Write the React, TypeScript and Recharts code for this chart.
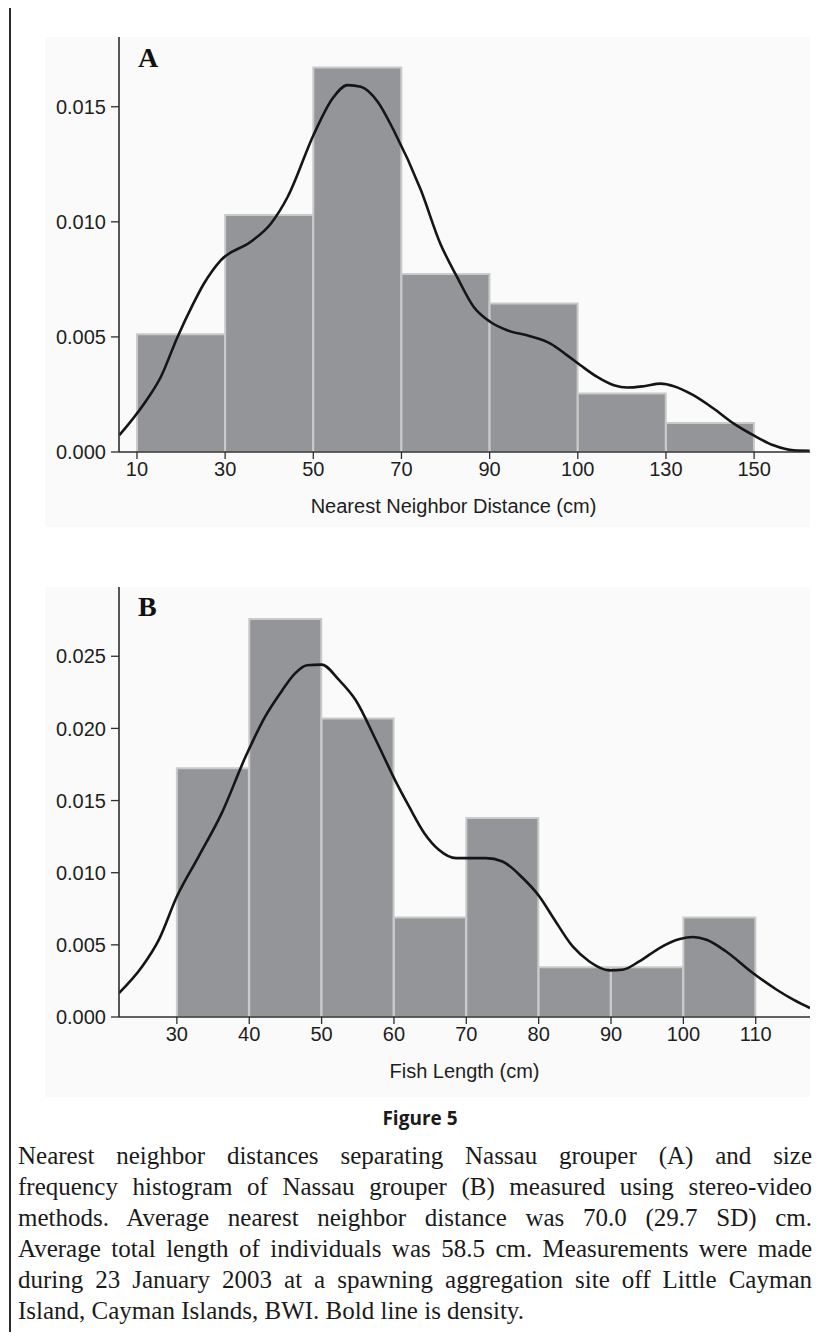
import React from 'react';
import { ComposedChart, Bar, Line, XAxis, YAxis, Label } from 'recharts';

// ---------- Panel A: nearest neighbor distance ----------
// x axis of panel A is drawn with equally spaced bin edges (index units)
const edgeLabelsA = ['10', '30', '50', '70', '90', '100', '130', '150'];
const edgePosA = [0, 1, 2, 3, 4, 5, 6, 7];
const binCenterA = [0.5, 1.5, 2.5, 3.5, 4.5, 5.5, 6.5];
const histA = [0.00512, 0.0103, 0.0167, 0.00773, 0.00645, 0.00254, 0.00126];
const densXA = [-0.2, 0.08, 0.27, 0.46, 0.63, 0.76, 0.95, 1.29, 1.52, 1.71, 2.01, 2.22, 2.39, 2.54, 2.73, 2.91, 3.22, 3.44, 3.63, 3.82, 4.01, 4.2, 4.46, 4.69, 4.88, 5.03, 5.22, 5.41, 5.56, 5.75, 5.94, 6.09, 6.31, 6.54, 6.77, 6.99, 7.22, 7.45, 7.63];
const densYA = [0.00073, 0.0021, 0.00326, 0.005, 0.00638, 0.00732, 0.00833, 0.00913, 0.00993, 0.01109, 0.01384, 0.01537, 0.01594, 0.01587, 0.01522, 0.01399, 0.01138, 0.00906, 0.00761, 0.0063, 0.00565, 0.00529, 0.00503, 0.00471, 0.0042, 0.00377, 0.00326, 0.0029, 0.0028, 0.00286, 0.00297, 0.00286, 0.00247, 0.00189, 0.00123, 0.00073, 0.00029, 0.00007, 0.00005];
const yTicksA = [0, 0.005, 0.01, 0.015];
const xDomainA: [number, number] = [-0.204, 7.634];
const yDomainA: [number, number] = [0, 0.01803];

// ---------- Panel B: fish length ----------
const xTicksB = [30, 40, 50, 60, 70, 80, 90, 100, 110];
const binCenterB = [35, 45, 55, 65, 75, 85, 95, 105];
const histB = [0.01724, 0.02759, 0.02069, 0.0069, 0.01379, 0.00345, 0.00345, 0.0069];
const densXB = [22.0, 25.2, 27.5, 30.0, 33.0, 36.2, 39.5, 42.2, 44.5, 46.3, 48.0, 50.0, 52.4, 54.7, 57.5, 60.2, 62.1, 64.2, 66.2, 68.6, 72.7, 75.0, 77.8, 80.1, 81.9, 84.7, 87.0, 89.8, 91.6, 93.9, 96.7, 99.5, 101.3, 103.2, 105.9, 109.6, 112.9, 115.2, 117.5];
const densYB = [0.00166, 0.0035, 0.00535, 0.00835, 0.01112, 0.01413, 0.01805, 0.02082, 0.0226, 0.0238, 0.02438, 0.02442, 0.02336, 0.02197, 0.0192, 0.01637, 0.01458, 0.01274, 0.01159, 0.01101, 0.01101, 0.01078, 0.00963, 0.00835, 0.00697, 0.00489, 0.00385, 0.00323, 0.00328, 0.00385, 0.00478, 0.0054, 0.00554, 0.00535, 0.00454, 0.00305, 0.00189, 0.0012, 0.00062];
const yTicksB = [0, 0.005, 0.01, 0.015, 0.02, 0.025];
const xDomainB: [number, number] = [22, 117.5];
const yDomainB: [number, number] = [0, 0.0298];

const captionLines = [
  'Nearest neighbor distances separating Nassau grouper (A) and size',
  'frequency histogram of Nassau grouper (B) measured using stereo-video',
  'methods. Average nearest neighbor distance was 70.0 (29.7 SD) cm.',
  'Average total length of individuals was 58.5 cm. Measurements were made',
  'during 23 January 2003 at a spawning aggregation site off Little Cayman',
  'Island, Cayman Islands, BWI. Bold line is density.',
];

const buildData = (bx: number[], hist: number[], lx: number[], dens: number[]) => [
  ...bx.map((v, i) => ({ bx: v, hist: hist[i] })),
  ...lx.map((v, i) => ({ lx: v, dens: dens[i] })),
];

const dataA = buildData(binCenterA, histA, densXA, densYA);
const dataB = buildData(binCenterB, histB, densXB, densYB);

const AXIS = '#2e2e2e';
const SANS = '"Liberation Sans", Arial, Helvetica, sans-serif';
const tickStyle = { fontSize: 20, fill: '#1e1e1e', fontFamily: SANS };
const BAR_FILL = '#939598';
const BAR_STROKE = '#cacaca';

type PanelProps = {
  data: any[];
  top: number;
  height: number;
  xDomain: [number, number];
  xTicks: number[];
  xFormat: (v: number) => string;
  yDomain: [number, number];
  yTicks: number[];
  xTitle: string;
  titleDx: number;
};

function Panel(p: PanelProps) {
  return (
    <div style={{ position: 'absolute', left: 0, top: p.top }}>
      <ComposedChart
        width={830}
        height={p.height}
        data={p.data}
        margin={{ top: 37, right: 20, bottom: 0, left: 0 }}
        barCategoryGap={0}
        barGap={0}
      >
        <XAxis
          xAxisId="main"
          dataKey="lx"
          type="number"
          domain={p.xDomain}
          allowDataOverflow
          ticks={p.xTicks}
          interval={0}
          tickFormatter={p.xFormat}
          height={78}
          tickSize={7}
          tickMargin={3}
          tick={tickStyle}
          tickLine={{ stroke: AXIS, strokeWidth: 1.3 }}
          axisLine={{ stroke: AXIS, strokeWidth: 1.6 }}
        >
          <Label
            value={p.xTitle}
            position="insideBottom"
            offset={17}
            dx={p.titleDx}
            style={{ fontSize: 20, fill: '#1e1e1e', fontFamily: SANS }}
          />
        </XAxis>
        <XAxis
          xAxisId="bars"
          dataKey="bx"
          type="number"
          orientation="top"
          height={0}
          domain={p.xDomain}
          allowDataOverflow
          hide
        />
        <YAxis
          type="number"
          domain={p.yDomain}
          allowDataOverflow
          ticks={p.yTicks}
          interval={0}
          tickFormatter={(v: number) => v.toFixed(3)}
          width={119}
          tickSize={8}
          tickMargin={5}
          tick={tickStyle}
          tickLine={{ stroke: AXIS, strokeWidth: 1.3 }}
          axisLine={{ stroke: AXIS, strokeWidth: 1.6 }}
        />
        <Bar
          xAxisId="bars"
          dataKey="hist"
          fill={BAR_FILL}
          stroke={BAR_STROKE}
          strokeWidth={2}
          isAnimationActive={false}
        />
        <Line
          xAxisId="main"
          dataKey="dens"
          type="monotone"
          stroke="#151515"
          strokeWidth={2.6}
          dot={false}
          activeDot={false}
          connectNulls
          isAnimationActive={false}
        />
      </ComposedChart>
    </div>
  );
}

function PanelLetter({ letter, top }: { letter: string; top: number }) {
  return (
    <svg width={60} height={40} style={{ position: 'absolute', left: 130, top }}>
      <text
        x={8}
        y={30}
        style={{ fontSize: 28, fontWeight: 700, fontFamily: '"Liberation Serif", "DejaVu Serif", serif', fill: '#111' }}
      >
        {letter}
      </text>
    </svg>
  );
}

export default function App() {
  return (
    <div
      style={{
        position: 'relative',
        margin: -8,
        width: 830,
        height: 1340,
        overflow: 'hidden',
        background: '#ffffff',
      }}
    >
      {/* frame */}
      <div
        style={{
          position: 'absolute',
          left: 9,
          top: 5,
          width: 900,
          height: 1400,
          borderLeft: '2px solid #2b2b2b',
          borderTop: '2px solid #2b2b2b',
        }}
      />
      {/* faint panel backgrounds */}
      <div style={{ position: 'absolute', left: 45, top: 37, width: 765, height: 490, background: '#fafafa' }} />
      <div style={{ position: 'absolute', left: 45, top: 587, width: 765, height: 510, background: '#fafafa' }} />

      <Panel
        data={dataA}
        top={0}
        height={530}
        xDomain={xDomainA}
        xTicks={edgePosA}
        xFormat={(v: number) => edgeLabelsA[v]}
        yDomain={yDomainA}
        yTicks={yTicksA}
        xTitle="Nearest Neighbor Distance (cm)"
        titleDx={-11}
      />
      <PanelLetter letter="A" top={37} />

      <Panel
        data={dataB}
        top={550}
        height={545}
        xDomain={xDomainB}
        xTicks={xTicksB}
        xFormat={(v: number) => String(v)}
        yDomain={yDomainB}
        yTicks={yTicksB}
        xTitle="Fish Length (cm)"
        titleDx={0}
      />
      <PanelLetter letter="B" top={586} />

      <div
        style={{
          position: 'absolute',
          left: 10,
          width: 820,
          top: 1106,
          textAlign: 'center',
          fontFamily: '"Open Sans", "Noto Sans", sans-serif',
          fontWeight: 700,
          fontSize: 19,
          lineHeight: '24px',
          color: '#1a1a1a',
        }}
      >
        Figure 5
      </div>
      <div
        style={{
          position: 'absolute',
          left: 18,
          width: 794,
          top: 1140,
          fontFamily: '"Liberation Serif", "DejaVu Serif", serif',
          fontSize: 25,
          lineHeight: '31px',
          color: '#1a1a1a',
        }}
      >
        {captionLines.map((line, i) => (
          <div
            key={i}
            style={{
              textAlign: i < captionLines.length - 1 ? 'justify' : 'left',
              textAlignLast: i < captionLines.length - 1 ? 'justify' : 'left',
            }}
          >
            {line}
          </div>
        ))}
      </div>
    </div>
  );
}
